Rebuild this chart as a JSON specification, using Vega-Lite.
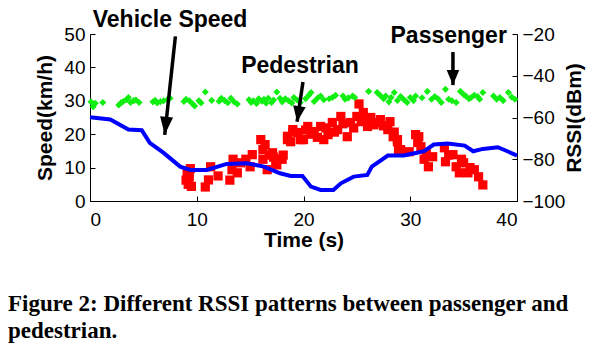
{
  "$schema": "https://vega.github.io/schema/vega-lite/v6.json",
  "width": 427,
  "height": 167,
  "autosize": {"type": "none"},
  "padding": {"left": 90, "top": 34, "right": 96, "bottom": 149},
  "background": "white",
  "config": {
    "view": {"stroke": null},
    "font": "Liberation Sans",
    "axis": {
      "grid": false,
      "domainColor": "black",
      "domainWidth": 1,
      "tickColor": "black",
      "tickSize": -5,
      "labelFont": "Liberation Sans",
      "labelFontSize": 19,
      "labelColor": "black",
      "titleFont": "Liberation Sans",
      "titleFontSize": 21,
      "titleFontWeight": "bold",
      "titleColor": "black"
    }
  },
  "title": {
    "text": ["Figure 2: Different RSSI patterns between passenger and", "pedestrian."],
    "orient": "bottom",
    "anchor": "start",
    "frame": "group",
    "font": "Liberation Serif",
    "fontSize": 23,
    "fontWeight": "bold",
    "color": "black",
    "lineHeight": 27,
    "offset": 43,
    "dx": -82
  },
  "datasets": {
    "speed": [
      {"t": 0, "speed": 25.1}, {"t": 1.9, "speed": 24.4}, {"t": 3.6, "speed": 21.4}, {"t": 4.85, "speed": 21.2},
      {"t": 5.6, "speed": 17.4}, {"t": 6.9, "speed": 14.4}, {"t": 8.45, "speed": 10.3}, {"t": 9.4, "speed": 9.3},
      {"t": 10.95, "speed": 9.3}, {"t": 12.8, "speed": 11.1}, {"t": 14.7, "speed": 11.3}, {"t": 16.3, "speed": 10.3},
      {"t": 17.8, "speed": 8.3}, {"t": 18.8, "speed": 7.5}, {"t": 19.9, "speed": 7.5}, {"t": 20.7, "speed": 4.3},
      {"t": 21.6, "speed": 3.3}, {"t": 22.8, "speed": 3.3}, {"t": 23.5, "speed": 5.3}, {"t": 24.7, "speed": 7.3},
      {"t": 25.98, "speed": 7.8}, {"t": 26.4, "speed": 10.3}, {"t": 27.9, "speed": 13.6}, {"t": 29.4, "speed": 13.6},
      {"t": 30.4, "speed": 14.3}, {"t": 31.3, "speed": 14.9}, {"t": 32.2, "speed": 16.9}, {"t": 33.5, "speed": 17.2},
      {"t": 35.1, "speed": 16.6}, {"t": 35.9, "speed": 14.9}, {"t": 36.8, "speed": 15.6}, {"t": 38.2, "speed": 16.1},
      {"t": 39.1, "speed": 14.9}, {"t": 40, "speed": 13.6}
    ],
    "passenger": [
      {"t": 0.1, "rssi": -52.5}, {"t": 0.3, "rssi": -54.8}, {"t": 0.5, "rssi": -53.2}, {"t": 1.2, "rssi": -52.8},
      {"t": 2.7, "rssi": -54.0}, {"t": 2.9, "rssi": -53.0}, {"t": 3.1, "rssi": -52.3}, {"t": 3.4, "rssi": -51.5},
      {"t": 3.6, "rssi": -50.4}, {"t": 3.8, "rssi": -52.8}, {"t": 4.1, "rssi": -51.9}, {"t": 4.3, "rssi": -51.6},
      {"t": 4.6, "rssi": -52.8}, {"t": 5.9, "rssi": -52.5}, {"t": 6.1, "rssi": -51.8}, {"t": 6.3, "rssi": -53.0},
      {"t": 6.6, "rssi": -52.4}, {"t": 6.9, "rssi": -52.0}, {"t": 7.3, "rssi": -51.2}, {"t": 7.5, "rssi": -50.8},
      {"t": 8.8, "rssi": -52.3}, {"t": 9.0, "rssi": -51.3}, {"t": 9.3, "rssi": -52.0}, {"t": 9.6, "rssi": -53.4},
      {"t": 9.8, "rssi": -54.5}, {"t": 10.2, "rssi": -52.0}, {"t": 10.4, "rssi": -53.0}, {"t": 10.8, "rssi": -47.8},
      {"t": 11.4, "rssi": -51.8}, {"t": 12.1, "rssi": -52.2}, {"t": 12.3, "rssi": -50.8}, {"t": 12.6, "rssi": -51.8},
      {"t": 12.9, "rssi": -52.9}, {"t": 13.2, "rssi": -50.8}, {"t": 13.5, "rssi": -52.5}, {"t": 13.8, "rssi": -53.5},
      {"t": 14.9, "rssi": -51.5}, {"t": 15.1, "rssi": -52.8}, {"t": 15.3, "rssi": -52.0}, {"t": 15.6, "rssi": -53.3},
      {"t": 15.8, "rssi": -51.0}, {"t": 16.1, "rssi": -52.2}, {"t": 16.3, "rssi": -51.3}, {"t": 16.5, "rssi": -53.1},
      {"t": 16.7, "rssi": -50.8}, {"t": 17.0, "rssi": -52.8}, {"t": 17.2, "rssi": -51.6}, {"t": 17.5, "rssi": -47.8},
      {"t": 17.8, "rssi": -50.8}, {"t": 18.0, "rssi": -52.5}, {"t": 18.3, "rssi": -51.0}, {"t": 18.6, "rssi": -52.0},
      {"t": 18.9, "rssi": -53.0}, {"t": 19.1, "rssi": -50.4}, {"t": 19.4, "rssi": -51.6}, {"t": 19.7, "rssi": -52.8},
      {"t": 20.2, "rssi": -51.0}, {"t": 20.5, "rssi": -49.3}, {"t": 20.7, "rssi": -48.0}, {"t": 21.0, "rssi": -52.3},
      {"t": 21.3, "rssi": -50.8}, {"t": 21.6, "rssi": -49.7}, {"t": 21.9, "rssi": -51.5}, {"t": 22.4, "rssi": -51.0},
      {"t": 22.7, "rssi": -50.4}, {"t": 23.0, "rssi": -49.4}, {"t": 23.7, "rssi": -49.7}, {"t": 23.9, "rssi": -51.3},
      {"t": 24.2, "rssi": -50.6}, {"t": 24.6, "rssi": -49.7}, {"t": 24.8, "rssi": -50.4}, {"t": 26.1, "rssi": -47.5},
      {"t": 26.9, "rssi": -48.0}, {"t": 27.2, "rssi": -49.5}, {"t": 27.5, "rssi": -51.0}, {"t": 27.7, "rssi": -49.7},
      {"t": 28.0, "rssi": -52.5}, {"t": 28.2, "rssi": -50.4}, {"t": 28.5, "rssi": -48.0}, {"t": 28.8, "rssi": -51.8},
      {"t": 29.1, "rssi": -49.9}, {"t": 29.4, "rssi": -51.4}, {"t": 29.7, "rssi": -52.8}, {"t": 30.0, "rssi": -50.4},
      {"t": 30.3, "rssi": -51.9}, {"t": 30.5, "rssi": -49.7}, {"t": 31.1, "rssi": -50.5}, {"t": 31.6, "rssi": -47.5},
      {"t": 32.0, "rssi": -51.3}, {"t": 32.3, "rssi": -49.9}, {"t": 32.6, "rssi": -51.0}, {"t": 32.9, "rssi": -52.8},
      {"t": 33.3, "rssi": -46.5}, {"t": 33.6, "rssi": -51.3}, {"t": 33.9, "rssi": -52.0}, {"t": 34.3, "rssi": -52.8},
      {"t": 34.7, "rssi": -47.5}, {"t": 35.0, "rssi": -49.0}, {"t": 35.2, "rssi": -49.7}, {"t": 35.5, "rssi": -51.0},
      {"t": 35.7, "rssi": -50.4}, {"t": 36.0, "rssi": -49.3}, {"t": 36.3, "rssi": -49.9}, {"t": 36.5, "rssi": -51.2},
      {"t": 36.8, "rssi": -48.0}, {"t": 37.8, "rssi": -49.7}, {"t": 38.1, "rssi": -51.3}, {"t": 38.4, "rssi": -50.4},
      {"t": 38.7, "rssi": -51.9}, {"t": 39.2, "rssi": -48.0}, {"t": 39.5, "rssi": -50.2}, {"t": 39.8, "rssi": -51.3}
    ],
    "pedestrian": [
      {"t": 9.0, "rssi": -90}, {"t": 9.1, "rssi": -86}, {"t": 9.2, "rssi": -92}, {"t": 9.3, "rssi": -88.5},
      {"t": 9.5, "rssi": -93}, {"t": 9.4, "rssi": -84.5}, {"t": 10.8, "rssi": -93.3}, {"t": 11.1, "rssi": -89.9},
      {"t": 11.3, "rssi": -83.6}, {"t": 12.0, "rssi": -88}, {"t": 13.1, "rssi": -90}, {"t": 13.3, "rssi": -85},
      {"t": 13.4, "rssi": -80}, {"t": 13.8, "rssi": -86.5}, {"t": 14.1, "rssi": -81.7}, {"t": 14.6, "rssi": -80},
      {"t": 15.0, "rssi": -83.6}, {"t": 15.2, "rssi": -77.8}, {"t": 16.0, "rssi": -70.6}, {"t": 16.2, "rssi": -75.4},
      {"t": 16.2, "rssi": -80}, {"t": 16.6, "rssi": -85}, {"t": 16.4, "rssi": -73}, {"t": 16.8, "rssi": -78},
      {"t": 17.1, "rssi": -76.9}, {"t": 17.2, "rssi": -79}, {"t": 17.4, "rssi": -81.7}, {"t": 17.5, "rssi": -82.7},
      {"t": 18.0, "rssi": -80}, {"t": 18.1, "rssi": -78}, {"t": 18.5, "rssi": -70.6}, {"t": 18.5, "rssi": -69},
      {"t": 18.8, "rssi": -71.6}, {"t": 19.0, "rssi": -67}, {"t": 19.0, "rssi": -65.8}, {"t": 19.5, "rssi": -67.2},
      {"t": 19.7, "rssi": -70.6}, {"t": 20.0, "rssi": -70.6}, {"t": 20.2, "rssi": -66}, {"t": 20.4, "rssi": -64.3},
      {"t": 20.7, "rssi": -68}, {"t": 21.0, "rssi": -66.7}, {"t": 21.3, "rssi": -69.5}, {"t": 21.6, "rssi": -64.3},
      {"t": 21.9, "rssi": -70.6}, {"t": 22.1, "rssi": -65}, {"t": 22.3, "rssi": -68.2}, {"t": 22.7, "rssi": -62.4},
      {"t": 22.9, "rssi": -67}, {"t": 23.2, "rssi": -65.8}, {"t": 23.5, "rssi": -59.5}, {"t": 23.7, "rssi": -63},
      {"t": 24.1, "rssi": -69.2}, {"t": 24.4, "rssi": -62.4}, {"t": 24.7, "rssi": -65}, {"t": 25.0, "rssi": -59.5},
      {"t": 25.2, "rssi": -53.5}, {"t": 25.4, "rssi": -62}, {"t": 25.6, "rssi": -57.6}, {"t": 25.8, "rssi": -61},
      {"t": 26.0, "rssi": -64.3}, {"t": 26.3, "rssi": -60}, {"t": 26.6, "rssi": -63.5}, {"t": 26.9, "rssi": -62.4},
      {"t": 27.2, "rssi": -61}, {"t": 27.5, "rssi": -64}, {"t": 27.9, "rssi": -65.8}, {"t": 28.1, "rssi": -62},
      {"t": 28.4, "rssi": -69.2}, {"t": 28.5, "rssi": -67}, {"t": 28.8, "rssi": -70.6}, {"t": 28.8, "rssi": -71.6},
      {"t": 28.9, "rssi": -75.4}, {"t": 29.1, "rssi": -75.4}, {"t": 29.9, "rssi": -76.4}, {"t": 30.5, "rssi": -68.2},
      {"t": 30.7, "rssi": -72}, {"t": 30.8, "rssi": -69.2}, {"t": 31.0, "rssi": -74}, {"t": 31.3, "rssi": -80},
      {"t": 31.5, "rssi": -77}, {"t": 31.7, "rssi": -83.6}, {"t": 32.1, "rssi": -78.8}, {"t": 33.2, "rssi": -74.5},
      {"t": 33.3, "rssi": -81.2}, {"t": 33.6, "rssi": -78}, {"t": 34.0, "rssi": -77.8}, {"t": 34.3, "rssi": -83.6},
      {"t": 34.6, "rssi": -86.5}, {"t": 34.8, "rssi": -80}, {"t": 35.0, "rssi": -81.7}, {"t": 35.4, "rssi": -86.5},
      {"t": 35.6, "rssi": -84}, {"t": 36.0, "rssi": -85}, {"t": 36.4, "rssi": -88.4}, {"t": 36.8, "rssi": -92.3}
    ],
    "notes": [
      {"label": "Vehicle Speed", "tx": 7.5, "ty": 52.1, "t1": 8.0, "s1": 49.3, "t2": 7.0, "s2": 19.8},
      {"label": "Pedestrian", "tx": 19.67, "ty": 38.4, "t1": 19.95, "s1": 35.6, "t2": 19.4, "s2": 23.7},
      {"label": "Passenger", "tx": 33.6, "ty": 47.3, "t1": 34.0, "s1": 44.6, "t2": 34.0, "s2": 34.7}
    ]
  },
  "layer": [
    {
      "layer": [
        {
          "data": {"name": "pedestrian"},
          "mark": {"type": "point", "shape": "square", "filled": true, "size": 85, "color": "#ff0000", "opacity": 1},
          "encoding": {
            "x": {"field": "t", "type": "quantitative", "scale": {"domain": [0, 40], "nice": false},
                  "axis": {"title": "Time (s)", "values": [0, 10, 20, 30, 40], "labelPadding": 14, "titlePadding": 0}},
            "y": {"field": "rssi", "type": "quantitative", "scale": {"domain": [-100, -20], "nice": false},
                  "axis": {"orient": "right", "title": "RSSI(dBm)", "values": [-100, -80, -60, -40, -20], "labelPadding": 10, "titleAngle": 270, "titlePadding": 20}}
          }
        },
        {
          "data": {"name": "passenger"},
          "mark": {"type": "point", "shape": "diamond", "filled": true, "size": 50, "color": "#11ee11", "opacity": 1},
          "encoding": {
            "x": {"field": "t", "type": "quantitative", "axis": {"title": "Time (s)", "values": [0, 10, 20, 30, 40], "labelPadding": 14, "titlePadding": 0}},
            "y": {"field": "rssi", "type": "quantitative",
                  "axis": {"orient": "right", "title": "RSSI(dBm)", "values": [-100, -80, -60, -40, -20], "labelPadding": 10, "titleAngle": 270, "titlePadding": 20}}
          }
        }
      ]
    },
    {
      "layer": [
        {
          "data": {"name": "speed"},
          "mark": {"type": "line", "color": "#0000ff", "strokeWidth": 4},
          "encoding": {
            "x": {"field": "t", "type": "quantitative", "axis": {"title": "Time (s)", "values": [0, 10, 20, 30, 40], "labelPadding": 14, "titlePadding": 0}},
            "y": {"field": "speed", "type": "quantitative", "scale": {"domain": [0, 50], "nice": false},
                  "axis": {"orient": "left", "title": "Speed(km/h)", "values": [0, 10, 20, 30, 40, 50], "labelPadding": 10, "titlePadding": 8}}
          }
        },
        {
          "data": {"name": "notes"},
          "mark": {"type": "rule", "color": "black", "strokeWidth": 3.5},
          "encoding": {
            "x": {"field": "t1", "type": "quantitative", "axis": {"title": "Time (s)", "values": [0, 10, 20, 30, 40], "labelPadding": 14, "titlePadding": 0}},
            "y": {"field": "s1", "type": "quantitative",
                  "axis": {"orient": "left", "title": "Speed(km/h)", "values": [0, 10, 20, 30, 40, 50], "labelPadding": 10, "titlePadding": 8}},
            "x2": {"field": "t2"},
            "y2": {"field": "s2"}
          }
        },
        {
          "data": {"name": "notes"},
          "transform": [{"filter": "datum.label === 'Vehicle Speed'"}],
          "mark": {"type": "point", "shape": "M0,0L-0.36,-1L0.36,-1Z", "filled": true, "color": "black", "opacity": 1, "size": 1300, "angle": 6},
          "encoding": {
            "x": {"field": "t2", "type": "quantitative", "axis": {"title": "Time (s)", "values": [0, 10, 20, 30, 40], "labelPadding": 14, "titlePadding": 0}},
            "y": {"field": "s2", "type": "quantitative",
                  "axis": {"orient": "left", "title": "Speed(km/h)", "values": [0, 10, 20, 30, 40, 50], "labelPadding": 10, "titlePadding": 8}}
          }
        },
        {
          "data": {"name": "notes"},
          "transform": [{"filter": "datum.label === 'Pedestrian'"}],
          "mark": {"type": "point", "shape": "M0,0L-0.4,-1L0.4,-1Z", "filled": true, "color": "black", "opacity": 1, "size": 1000, "angle": 8.5},
          "encoding": {
            "x": {"field": "t2", "type": "quantitative", "axis": {"title": "Time (s)", "values": [0, 10, 20, 30, 40], "labelPadding": 14, "titlePadding": 0}},
            "y": {"field": "s2", "type": "quantitative",
                  "axis": {"orient": "left", "title": "Speed(km/h)", "values": [0, 10, 20, 30, 40, 50], "labelPadding": 10, "titlePadding": 8}}
          }
        },
        {
          "data": {"name": "notes"},
          "transform": [{"filter": "datum.label === 'Passenger'"}],
          "mark": {"type": "point", "shape": "M0,0L-0.42,-1L0.42,-1Z", "filled": true, "color": "black", "opacity": 1, "size": 900, "angle": 0},
          "encoding": {
            "x": {"field": "t2", "type": "quantitative", "axis": {"title": "Time (s)", "values": [0, 10, 20, 30, 40], "labelPadding": 14, "titlePadding": 0}},
            "y": {"field": "s2", "type": "quantitative",
                  "axis": {"orient": "left", "title": "Speed(km/h)", "values": [0, 10, 20, 30, 40, 50], "labelPadding": 10, "titlePadding": 8}}
          }
        },
        {
          "data": {"name": "notes"},
          "mark": {"type": "text", "font": "Liberation Sans", "fontSize": 23, "fontWeight": "bold", "color": "black", "align": "center", "baseline": "alphabetic"},
          "encoding": {
            "x": {"field": "tx", "type": "quantitative", "axis": {"title": "Time (s)", "values": [0, 10, 20, 30, 40], "labelPadding": 14, "titlePadding": 0}},
            "y": {"field": "ty", "type": "quantitative",
                  "axis": {"orient": "left", "title": "Speed(km/h)", "values": [0, 10, 20, 30, 40, 50], "labelPadding": 10, "titlePadding": 8}},
            "text": {"field": "label"}
          }
        }
      ]
    }
  ],
  "resolve": {"scale": {"y": "independent"}, "axis": {"y": "independent"}}
}
